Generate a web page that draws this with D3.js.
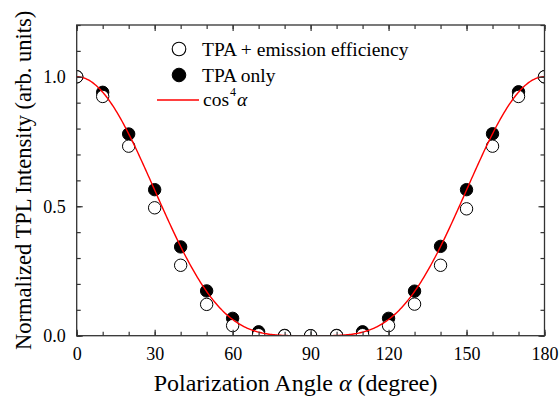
<!DOCTYPE html>
<html>
<head>
<meta charset="utf-8">
<script src="https://cdn.jsdelivr.net/npm/d3@7"></script>
<style>
  html, body { margin: 0; padding: 0; background: #fff; }
  svg { display: block; }
  text { font-family: "Liberation Serif", "Times New Roman", serif; fill: #000; }
</style>
</head>
<body>
<svg id="chart" width="560" height="396"></svg>
<script>
// Polarization angles (degree)
const angles = [0, 10, 20, 30, 40, 50, 60, 70, 80, 90, 100, 110, 120, 130, 140, 150, 160, 170, 180];
// TPA + emission efficiency (open circles)
const tpaEmission = [1.0, 0.924, 0.732, 0.494, 0.272, 0.121, 0.039, 0.004, 0.0, 0.0, 0.0, 0.004, 0.039, 0.122, 0.272, 0.490, 0.732, 0.924, 1.0];
// TPA only (filled circles)
const tpaOnly = [1.0, 0.940, 0.779, 0.564, 0.343, 0.173, 0.067, 0.015, 0.001, 0.0, 0.001, 0.015, 0.067, 0.172, 0.345, 0.564, 0.780, 0.942, 1.0];
// Axis ticks
const xMajorTicks = [0, 30, 60, 90, 120, 150, 180];
const xMinorTicks = d3.range(0, 181, 10);
const yMajorTicks = [0.0, 0.5, 1.0];
const yMinorTicks = d3.range(0, 1.21, 0.1);

const FONT = "Liberation Serif";
const svg = d3.select("#chart");
const margin = { left: 76.7, right: 15.5, top: 25, bottom: 60.3 };
const W = 560, H = 396;
const x = d3.scaleLinear().domain([0, 180]).range([margin.left, W - margin.right]);
const y = d3.scaleLinear().domain([0, 1.2]).range([H - margin.bottom, margin.top]);

svg.append("defs").append("clipPath").attr("id", "plotClip")
  .append("rect")
  .attr("x", x(0)).attr("y", y(1.2))
  .attr("width", x(180) - x(0)).attr("height", y(0) - y(1.2));

const plot = svg.append("g").attr("clip-path", "url(#plotClip)");

// TPA only markers
plot.selectAll("circle.filled").data(angles.map((a, i) => [a, tpaOnly[i]]))
  .join("circle").attr("class", "filled")
  .attr("cx", d => x(d[0])).attr("cy", d => y(d[1])).attr("r", 6.2)
  .attr("fill", "#000").attr("stroke", "#000").attr("stroke-width", 1);

// TPA + emission efficiency markers
plot.selectAll("circle.open").data(angles.map((a, i) => [a, tpaEmission[i]]))
  .join("circle").attr("class", "open")
  .attr("cx", d => x(d[0])).attr("cy", d => y(d[1])).attr("r", 6.2)
  .attr("fill", "#fff").attr("stroke", "#000").attr("stroke-width", 1);

// cos^4 curve
const curve = d3.range(0, 180.01, 0.5).map(a => [a, Math.pow(Math.cos(a * Math.PI / 180), 4)]);
plot.append("path").datum(curve)
  .attr("fill", "none").attr("stroke", "#ff0000").attr("stroke-width", 1.4)
  .attr("d", d3.line().x(d => x(d[0])).y(d => y(d[1])));

// Axes with inward ticks on all four sides
const axisColor = "#333";
function addAxis(axis, tx, ty, labels) {
  const g = svg.append("g").attr("transform", `translate(${tx},${ty})`).call(axis);
  g.select(".domain").remove();
  g.selectAll(".tick line").attr("stroke", axisColor).attr("stroke-width", 1.2);
  g.selectAll(".tick text").attr("font-size", 18).attr("font-family", FONT).attr("fill", "#000");
  if (!labels) g.selectAll(".tick text").remove();
  return g;
}
// bottom
addAxis(d3.axisBottom(x).tickValues(xMinorTicks).tickSize(-4).tickFormat(""), 0, y(0), false);
addAxis(d3.axisBottom(x).tickValues(xMajorTicks).tickSize(-6).tickPadding(12).tickFormat(d3.format("d")), 0, y(0), true);
// top
addAxis(d3.axisTop(x).tickValues(xMinorTicks).tickSize(-4).tickFormat(""), 0, y(1.2), false);
addAxis(d3.axisTop(x).tickValues(xMajorTicks).tickSize(-6).tickFormat(""), 0, y(1.2), false);
// left
addAxis(d3.axisLeft(y).tickValues(yMinorTicks).tickSize(-4).tickFormat(""), x(0), 0, false);
addAxis(d3.axisLeft(y).tickValues(yMajorTicks).tickSize(-6).tickPadding(11).tickFormat(d3.format(".1f")), x(0), 0, true);
// right
addAxis(d3.axisRight(y).tickValues(yMinorTicks).tickSize(-4).tickFormat(""), x(180), 0, false);
addAxis(d3.axisRight(y).tickValues(yMajorTicks).tickSize(-6).tickFormat(""), x(180), 0, false);

// frame
svg.append("rect")
  .attr("x", x(0)).attr("y", y(1.2))
  .attr("width", x(180) - x(0)).attr("height", y(0) - y(1.2))
  .attr("fill", "none").attr("stroke", axisColor).attr("stroke-width", 1.3);

// Axis titles
const xt = svg.append("text")
  .attr("x", (x(0) + x(180)) / 2 - 15).attr("y", 391)
  .attr("text-anchor", "middle").attr("font-size", 24).attr("font-family", FONT);
xt.append("tspan").text("Polarization Angle ");
xt.append("tspan").attr("font-style", "italic").text("α");
xt.append("tspan").text(" (degree)");

svg.append("text")
  .attr("transform", `translate(31,${(y(0) + y(1.2)) / 2}) rotate(-90)`)
  .attr("text-anchor", "middle").attr("font-size", 22.5).attr("font-family", FONT)
  .text("Normalized TPL Intensity (arb. units)");

// Legend
const lg = svg.append("g").attr("font-family", FONT);
lg.append("circle").attr("cx", 179).attr("cy", 49).attr("r", 6.8)
  .attr("fill", "#fff").attr("stroke", "#000").attr("stroke-width", 1.1);
lg.append("text").attr("x", 202).attr("y", 56).attr("font-size", 19.5).attr("font-family", FONT)
  .text("TPA + emission efficiency");
lg.append("circle").attr("cx", 179).attr("cy", 75).attr("r", 6.8)
  .attr("fill", "#000").attr("stroke", "#000");
lg.append("text").attr("x", 202).attr("y", 82).attr("font-size", 19.5).attr("font-family", FONT)
  .text("TPA only");
lg.append("line").attr("x1", 157).attr("x2", 199).attr("y1", 100).attr("y2", 100)
  .attr("stroke", "#ff0000").attr("stroke-width", 1.4);
const ct = lg.append("text").attr("x", 203).attr("y", 106).attr("font-size", 19.5).attr("font-family", FONT);
ct.append("tspan").text("cos");
ct.append("tspan").attr("font-size", 12).attr("dy", -10).attr("dx", 1).text("4");
ct.append("tspan").attr("font-style", "italic").attr("dy", 10).attr("dx", 1).text("α");
</script>
</body>
</html>
